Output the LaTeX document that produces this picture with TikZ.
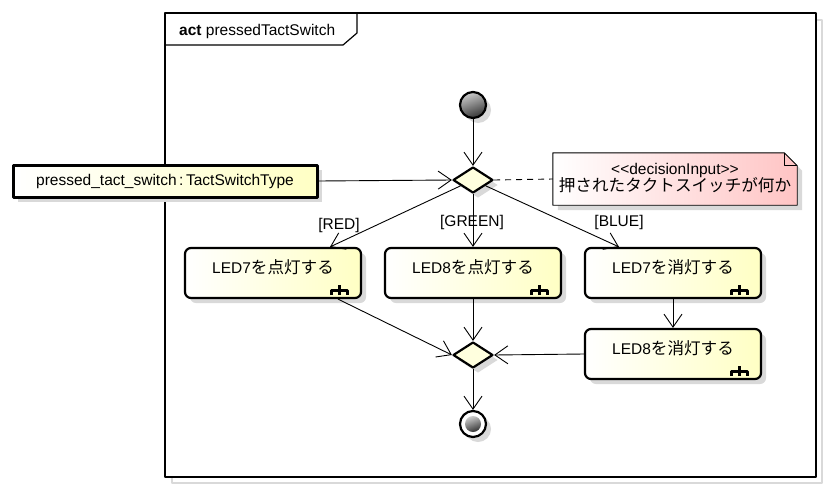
\documentclass[tikz,border=0pt]{standalone}
\usepackage{fontspec}
\setmainfont{Liberation Sans}
\newfontfamily\jp{Noto Sans CJK JP}[Scale=1.07]
\usetikzlibrary{shapes.geometric,arrows.meta,shadows}
\definecolor{ylw}{RGB}{255,255,196}
\definecolor{dia}{RGB}{255,255,222}
\definecolor{pnk}{RGB}{255,196,196}
\newcommand\rake[1]{\draw[line width=3pt,line cap=butt]
	([xshift=-31pt,yshift=4pt]#1.south east) -- ([xshift=-31pt,yshift=9pt]#1.south east) -- ([xshift=-15pt,yshift=9pt]#1.south east) -- ([xshift=-15pt,yshift=4pt]#1.south east)
	([xshift=-23pt,yshift=4pt]#1.south east) -- ([xshift=-23pt,yshift=14pt]#1.south east);}
\begin{document}
\begin{tikzpicture}[x=1pt,y=-1pt,font=\fontsize{15.5}{18}\selectfont,line join=round,
	shadowed/.style={drop shadow={shadow xshift=5pt,shadow yshift=-5pt,fill=black!15,opacity=1}},
	act/.style={draw,line width=2.2pt,rounded corners=6pt,minimum width=176pt,minimum height=50pt,left color=white,right color=ylw,text height=11pt,text depth=11pt,shadowed},
	dec/.style={diamond,draw,line width=2.2pt,fill=dia,minimum width=40pt,minimum height=26pt,inner sep=0pt,shadowed},
	flow/.style={-{Straight Barb[length=13pt,width=18pt]},line width=0.9pt},
	lbl/.style={inner sep=1pt}]
	\useasboundingbox (0,0) rectangle (829,490);
	% frame
	\draw[black!15,line width=1.2pt] (172,20) rectangle (822,483);
	\draw[fill=white,line width=1.2pt] (165,13) rectangle (816,477);
	\draw[line width=1.2pt] (165,45) -- (343,45) -- (357,33) -- (357,13);
	\node[anchor=west,inner sep=0pt] (title) at (179,31) {\textbf{act} pressedTactSwitch};
	% nodes
	\node[circle,draw,line width=2.2pt,minimum size=26pt,inner sep=0pt,top color=black!20,bottom color=black!80,shading angle=20,shadowed] (init) at (473,105) {};
	\node[dec] (d1) at (473,180) {};
	\node[draw,line width=3pt,minimum width=304pt,minimum height=32pt,left color=white,right color=ylw,shadowed] (obj) at (165,181) {pressed\_tact\_switch\,:\,TactSwitchType};
	\node[minimum width=244pt,minimum height=52pt,inner sep=0pt] (note) at (675,179) {};
	\shade[left color=white,right color=pnk,draw,line width=0.9pt,drop shadow={shadow xshift=5pt,shadow yshift=-5pt,fill=black!15,opacity=1}]
		(note.north west) -- ([xshift=-13pt]note.north east) -- ([yshift=-13pt]note.north east) -- (note.south east) -- (note.south west) -- cycle;
	\draw[line width=0.9pt] ([xshift=-13pt]note.north east) -- ([xshift=-13pt,yshift=-13pt]note.north east) -- ([yshift=-13pt]note.north east);
	\node[align=center,inner sep=0pt] (notetxt) at ([yshift=1pt]note) {<{}<decisionInput>{}>\\[-1pt]{\jp 押されたタクトスイッチが何か}};
	\node[act] (a1) at (273,273) {LED7{\jp を点灯する}};
	\node[act] (a2) at (473,273) {LED8{\jp を点灯する}};
	\node[act] (a3) at (673,273) {LED7{\jp を消灯する}};
	\node[act] (a4) at (673,354) {LED8{\jp を消灯する}};
	\rake{a1} \rake{a2} \rake{a3} \rake{a4}
	\node[dec] (d2) at (473,355) {};
	\node[circle,draw,line width=2.2pt,minimum size=26pt,inner sep=0pt,fill=white,shadowed] (final) at (473,424) {};
	\node[circle,minimum size=16pt,inner sep=0pt,top color=black!20,bottom color=black!80,shading angle=20] (finaldot) at (final) {};
	% labels
	\node[lbl] (lred) at (339,225) {[RED]};
	\node[lbl] (lgreen) at (472,222) {[GREEN]};
	\node[lbl] (lblue) at (619,222) {[BLUE]};
	% flows
	\draw[flow] (init) -- (d1.north);
	\draw[flow] (obj.east) -- (d1.west);
	\draw[dashed,line width=0.9pt,dash pattern=on 6pt off 5pt] (d1.east) -- (note.west);
	\draw[flow] (d1) -- ([xshift=57pt]a1.north);
	\draw[flow] (d1.south) -- (a2.north);
	\draw[flow] (d1) -- ([xshift=-54pt]a3.north);
	\draw[flow] ([xshift=65pt]a1.south) -- (d2.west);
	\draw[flow] (a2.south) -- (d2.north);
	\draw[flow] (a3.south) -- (a4.north);
	\draw[flow] (a4.west) -- (d2.east);
	\draw[flow] (d2.south) -- (final.north);
\end{tikzpicture}
\end{document}
